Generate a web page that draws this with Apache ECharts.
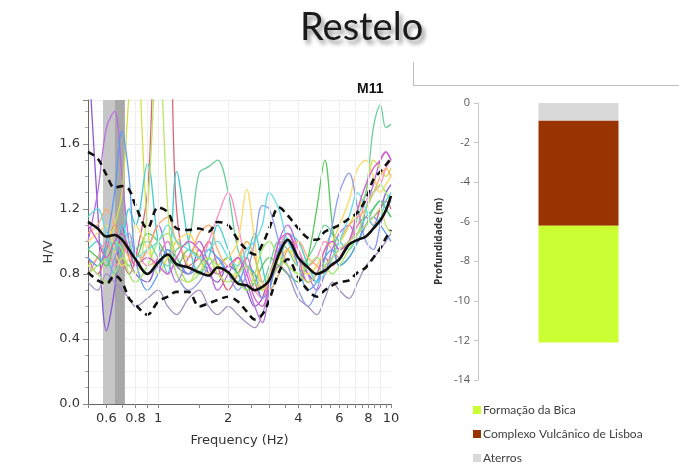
<!DOCTYPE html>
<html>
<head>
<meta charset="utf-8">
<script src="https://cdn.jsdelivr.net/npm/echarts@6/dist/echarts.min.js"></script>
<style>
  html, body { margin: 0; padding: 0; background: #ffffff; }
  #chart { width: 679px; height: 469px; }
</style>
</head>
<body>
<div id="chart"></div>
<script>
// Frequency samples (Hz) shared by every H/V curve
const freqs = [0.5, 0.55, 0.6, 0.65, 0.7, 0.75, 0.8, 0.9, 1.0, 1.1, 1.2, 1.35, 1.5, 1.65, 1.8,
  2.0, 2.2, 2.4, 2.6, 2.8, 3.0, 3.3, 3.6, 4.0, 4.4, 4.8, 5.2, 5.6, 6.0, 6.6, 7.2, 7.8, 8.4, 9.0, 9.5, 10];

// Average H/V ratio and the +/- standard deviation envelope
const hvMean = [1.12, 1.08, 1.03, 1.04, 1.01, 0.95, 0.89, 0.80, 0.87, 0.92, 0.86, 0.84, 0.81, 0.79, 0.84,
  0.81, 0.74, 0.73, 0.70, 0.72, 0.76, 0.92, 1.01, 0.90, 0.84, 0.80, 0.82, 0.86, 0.89, 0.98, 1.01, 1.03, 1.08, 1.13, 1.19, 1.28];
const hvUpper = [1.55, 1.51, 1.41, 1.33, 1.34, 1.32, 1.22, 1.08, 1.21, 1.18, 1.08, 1.07, 1.08, 1.06, 1.12,
  1.10, 1.01, 0.95, 0.92, 0.98, 1.08, 1.21, 1.16, 1.08, 1.02, 1.01, 1.06, 1.08, 1.10, 1.14, 1.18, 1.26, 1.38, 1.43, 1.47, 1.51];
const hvLower = [0.81, 0.76, 0.74, 0.79, 0.75, 0.65, 0.61, 0.55, 0.63, 0.66, 0.69, 0.69, 0.60, 0.62, 0.64,
  0.66, 0.63, 0.57, 0.52, 0.55, 0.64, 0.81, 0.89, 0.78, 0.70, 0.66, 0.70, 0.73, 0.75, 0.76, 0.81, 0.84, 0.90, 0.96, 1.02, 1.07];

// Individual time-window H/V curves
const w01 = [2.2, 1.2, 0.45, 0.7, 1.1, 0.9, 0.8, 0.75, 0.9, 1.0, 0.85, 0.8, 0.95, 0.8, 0.75,
  0.85, 0.8, 0.7, 0.6, 0.65, 0.8, 0.95, 1.05, 0.9, 0.8, 0.75, 0.85, 0.9, 0.95, 1.0, 1.05, 1.1, 1.15, 1.2, 1.3, 1.35];
const w02 = [1.0, 1.3, 1.7, 1.8, 1.4, 1.0, 0.85, 0.95, 1.1, 0.9, 0.75, 0.9, 1.0, 0.85, 0.7,
  0.8, 0.9, 0.75, 0.6, 0.5, 0.7, 1.0, 1.1, 0.95, 0.8, 0.7, 0.8, 0.95, 1.05, 1.1, 1.0, 1.2, 1.35, 1.5, 1.55, 1.5];
const w03 = [0.9, 0.8, 0.95, 1.1, 0.9, 0.8, 0.9, 1.3, 2.4, 2.4, 1.2, 0.85, 0.9, 1.0, 0.85,
  0.7, 0.8, 0.9, 0.75, 0.65, 0.75, 0.9, 1.0, 0.85, 0.75, 0.8, 0.9, 0.85, 0.9, 1.0, 1.1, 1.15, 1.1, 1.2, 1.25, 1.2];
const w04 = [0.85, 0.9, 1.0, 1.1, 1.3, 1.9, 2.3, 1.1, 0.8, 0.9, 1.0, 0.85, 0.8, 0.9, 0.8,
  0.75, 0.85, 1.0, 0.9, 0.7, 0.75, 0.85, 0.95, 0.9, 0.8, 0.85, 0.95, 1.05, 1.0, 1.1, 1.2, 1.3, 1.5, 1.45, 1.4, 1.45];
const w05 = [0.95, 1.0, 0.9, 0.8, 0.95, 1.2, 1.1, 1.48, 1.0, 0.8, 1.43, 1.0, 0.8, 0.9, 1.1,
  0.95, 0.8, 0.9, 1.05, 0.85, 0.7, 0.8, 1.05, 1.0, 0.85, 0.75, 0.9, 1.05, 1.0, 0.95, 1.05, 1.15, 1.2, 1.25, 1.2, 1.15];
const w06 = [0.9, 0.85, 0.95, 1.0, 0.9, 0.85, 0.95, 1.0, 0.9, 0.85, 0.95, 1.0, 1.42, 1.46, 1.5,
  1.3, 0.95, 0.85, 0.8, 0.75, 0.85, 1.0, 0.95, 0.85, 0.9, 1.0, 1.1, 1.05, 0.95, 1.0, 1.15, 1.3, 1.7, 1.84, 1.7, 1.72];
const w07 = [0.8, 0.9, 1.0, 0.85, 0.9, 1.0, 0.95, 0.85, 0.9, 1.0, 0.9, 0.8, 0.85, 1.0, 1.15,
  1.3, 1.1, 0.85, 0.7, 0.65, 0.8, 0.95, 1.05, 0.95, 0.85, 0.9, 1.0, 0.95, 0.9, 1.0, 1.1, 1.25, 1.3, 1.35, 1.45, 1.5];
const w08 = [0.95, 0.9, 0.85, 1.0, 1.05, 0.95, 0.9, 1.05, 1.0, 0.9, 0.85, 0.95, 0.9, 0.8, 0.85,
  0.9, 0.8, 0.7, 0.75, 0.85, 0.9, 0.85, 0.8, 0.75, 0.9, 1.2, 1.5, 1.1, 0.85, 0.9, 1.0, 1.1, 1.2, 1.25, 1.2, 1.15];
const w09 = [1.0, 1.05, 1.1, 0.95, 0.85, 0.9, 1.1, 0.95, 0.85, 0.9, 1.0, 1.05, 0.9, 0.8, 0.85,
  0.9, 1.0, 1.32, 1.0, 0.7, 0.75, 0.9, 0.95, 0.85, 0.8, 0.85, 0.95, 1.0, 1.1, 1.25, 1.45, 1.5, 1.4, 1.3, 1.35, 1.4];
const w10 = [0.85, 0.8, 0.75, 0.9, 1.0, 1.05, 0.9, 0.8, 0.85, 0.95, 0.8, 0.7, 0.75, 0.85, 0.9,
  0.8, 0.7, 0.8, 1.0, 1.22, 1.2, 1.0, 0.85, 0.7, 0.6, 0.7, 0.9, 1.1, 1.3, 1.42, 1.2, 1.0, 0.95, 1.1, 1.2, 1.25];
const w11 = [0.75, 0.7, 0.8, 0.75, 0.7, 0.65, 0.6, 0.65, 0.7, 0.6, 0.55, 0.65, 0.7, 0.6, 0.55,
  0.6, 0.55, 0.5, 0.47, 0.55, 0.7, 0.85, 0.8, 0.65, 0.6, 0.55, 0.65, 0.75, 0.7, 0.65, 0.75, 0.85, 0.9, 0.95, 1.0, 1.05];
const w12 = [1.05, 1.1, 1.2, 1.1, 1.0, 0.9, 0.85, 0.95, 1.1, 1.15, 1.0, 0.9, 1.05, 1.1, 0.95,
  0.85, 0.9, 1.0, 0.9, 0.75, 0.7, 0.8, 0.95, 1.0, 0.9, 0.85, 0.8, 0.9, 1.0, 1.1, 1.15, 1.2, 1.3, 1.4, 1.45, 1.4];
const w13 = [0.9, 0.85, 1.0, 1.3, 1.68, 1.4, 0.9, 0.7, 0.8, 0.95, 0.9, 0.8, 0.85, 0.95, 0.9,
  0.8, 0.75, 0.85, 0.8, 0.65, 0.7, 0.95, 1.0, 0.85, 0.7, 0.75, 0.9, 0.95, 0.85, 0.9, 1.0, 1.1, 1.15, 1.1, 1.05, 1.0];
const w14 = [0.8, 0.85, 0.9, 1.0, 0.95, 0.8, 0.75, 0.85, 1.0, 1.05, 0.9, 0.75, 0.8, 0.9, 0.85,
  0.8, 0.75, 0.7, 0.8, 0.95, 1.0, 0.9, 0.85, 0.8, 0.85, 0.9, 0.85, 0.8, 0.85, 0.95, 1.05, 1.2, 1.3, 1.35, 1.3, 1.25];
const w15 = [1.15, 1.2, 1.05, 0.95, 1.1, 1.0, 0.9, 0.95, 1.0, 1.1, 1.0, 0.95, 0.9, 0.95, 1.0,
  0.9, 0.85, 0.95, 1.0, 1.1, 1.3, 1.2, 1.0, 0.9, 0.85, 0.75, 0.8, 0.9, 1.0, 1.15, 1.3, 1.2, 1.1, 1.15, 1.25, 1.3];
const w16 = [1.1, 1.0, 0.9, 1.0, 1.05, 0.95, 0.85, 0.9, 0.85, 0.8, 0.9, 1.0, 0.95, 0.85, 0.8,
  0.85, 0.9, 0.8, 0.65, 0.6, 0.75, 1.0, 1.05, 0.9, 0.75, 0.8, 0.95, 1.0, 0.95, 1.0, 1.2, 1.35, 1.45, 1.5, 1.55, 1.5];
const w17 = [0.85, 0.8, 0.75, 0.8, 0.9, 0.85, 0.8, 1.2, 2.3, 1.2, 0.8, 0.75, 0.85, 0.9, 0.8,
  0.75, 0.8, 0.85, 0.75, 0.7, 0.8, 0.9, 0.85, 0.8, 0.75, 0.8, 0.85, 0.9, 0.95, 1.0, 1.05, 1.1, 1.15, 1.2, 1.1, 1.05];

const windows = [w01, w02, w03, w04, w05, w06, w07, w08, w09, w10, w11, w12, w13, w14, w15, w16, w17];
const windowColors = ['#8a5ad6', '#b86ee0', '#d9667a', '#d2e04a', '#45cccc', '#6ccf9c', '#ff8cc0',
  '#55c95a', '#ffd860', '#8c9cf0', '#a393c4', '#ffaa66', '#5a9cf5', '#9eea6a', '#5fdde6', '#d95bd0', '#bde36a'];

// Peak frequency band (f0 - sigma, f0, f0 + sigma)
const f0Band = [0.58, 0.65, 0.72];

// Frequency axis labels, ticks and faint grid lines
const freqLabels = [0.6, 0.8, 1, 2, 4, 6, 8, 10];
const freqTicks = [0.5, 0.6, 0.7, 0.8, 0.9, 1, 1.5, 2, 2.5, 3, 3.5, 4, 4.5, 5, 5.5, 6, 6.5, 7, 7.5, 8, 8.5, 9, 9.5, 10];
const freqGrid = [0.8, 0.9, 1, 2, 3, 4, 5, 6, 7, 8, 9];

// Soil profile (top to bottom), thickness in metres
const layerNames = ['Aterros', 'Complexo Vulcânico de Lisboa', 'Formação da Bica'];
const layerThickness = [0.9, 5.3, 5.9];
const layerColors = ['#d9d9d9', '#993300', '#ccff33'];
const legendOrder = ['Formação da Bica', 'Complexo Vulcânico de Lisboa', 'Aterros'];

const pairs = vals => vals.map((v, i) => [freqs[i], v]);

const series = [];

// faint vertical grid lines
series.push({
  type: 'line', xAxisIndex: 0, yAxisIndex: 0, data: [], silent: true, z: 0,
  markLine: {
    silent: true, symbol: 'none', label: { show: false },
    lineStyle: { color: '#eeeeee', width: 1, type: 'solid' },
    data: freqGrid.map(f => ({ xAxis: f }))
  }
});

// shaded f0 band
series.push({
  type: 'line', xAxisIndex: 0, yAxisIndex: 0, data: [], silent: true, z: 1,
  markArea: {
    silent: true,
    data: [
      [{ xAxis: f0Band[0], itemStyle: { color: '#c6c6c6' } }, { xAxis: f0Band[1] }],
      [{ xAxis: f0Band[1], itemStyle: { color: '#a8a8a8' } }, { xAxis: f0Band[2] }]
    ]
  }
});

windows.forEach((w, i) => {
  series.push({
    type: 'line', xAxisIndex: 0, yAxisIndex: 0, data: pairs(w),
    smooth: 0.35, showSymbol: false, silent: true, z: 2,
    lineStyle: { color: windowColors[i], width: 1.3 }
  });
});

[hvUpper, hvLower].forEach(v => {
  series.push({
    type: 'line', xAxisIndex: 0, yAxisIndex: 0, data: pairs(v),
    smooth: 0.35, showSymbol: false, silent: true, z: 4,
    lineStyle: { color: '#111', width: 2.6, type: [7, 5] }
  });
});
series.push({
  type: 'line', xAxisIndex: 0, yAxisIndex: 0, data: pairs(hvMean),
  smooth: 0.35, showSymbol: false, silent: true, z: 5,
  lineStyle: { color: '#111', width: 2.6 }
});

layerNames.forEach((name, i) => {
  series.push({
    name: name, type: 'bar', xAxisIndex: 1, yAxisIndex: 1, stack: 'perfil',
    barWidth: 80, data: [-layerThickness[i]], silent: true,
    itemStyle: { color: layerColors[i] }
  });
});

const chart = echarts.init(document.getElementById('chart'), null, { renderer: 'canvas' });
chart.setOption({
  animation: false,
  backgroundColor: '#ffffff',
  title: {
    text: 'Restelo', left: 295, top: 4,
    textStyle: {
      fontFamily: 'Lato', fontSize: 38, fontWeight: 'normal', color: '#1a1a1a',
      textShadowColor: 'rgba(0,0,0,0.42)', textShadowBlur: 4, textShadowOffsetX: 3, textShadowOffsetY: 4
    }
  },
  legend: {
    data: legendOrder, orient: 'vertical', left: 468, top: 399, itemGap: 12,
    icon: 'rect', itemWidth: 8, itemHeight: 8, selectedMode: false,
    textStyle: { fontFamily: 'Lato', fontSize: 12, color: '#404040', padding: [0, 0, 0, -3] }
  },
  grid: [
    { left: 88, top: 100, width: 303, height: 304 },
    { left: 478, top: 103, width: 204, height: 277 }
  ],
  xAxis: [
    {
      type: 'log', logBase: 10, min: 0.5, max: 10, gridIndex: 0,
      name: 'Frequency (Hz)', nameLocation: 'middle', nameGap: 30,
      nameTextStyle: { fontFamily: 'DejaVu Sans', fontSize: 13, color: '#333' },
      axisLine: { lineStyle: { color: '#666' } },
      axisTick: { customValues: freqTicks, length: 4, lineStyle: { color: '#888' } },
      axisLabel: { customValues: freqLabels, formatter: v => String(+v.toFixed(2)),
        fontFamily: 'DejaVu Sans', fontSize: 13, color: '#333', margin: 8 },
      splitLine: { show: false },
      minorTick: { show: false }
    },
    {
      type: 'category', gridIndex: 1, data: [''], show: false
    }
  ],
  yAxis: [
    {
      type: 'value', gridIndex: 0, min: 0, max: 1.87, interval: 0.4,
      name: 'H/V', nameLocation: 'middle', nameGap: 31,
      nameTextStyle: { fontFamily: 'DejaVu Sans', fontSize: 13, color: '#333' },
      axisLine: { show: true, lineStyle: { color: '#666' } },
      axisTick: { show: true, length: 5, lineStyle: { color: '#888' } },
      minorTick: { show: true, splitNumber: 4, length: 3, lineStyle: { color: '#aaa' } },
      axisLabel: { showMaxLabel: false, formatter: v => v.toFixed(1),
        fontFamily: 'DejaVu Sans', fontSize: 13, color: '#333', margin: 8 },
      splitLine: { show: true, lineStyle: { color: '#ececec' } },
      minorSplitLine: { show: true, lineStyle: { color: '#f4f4f4' } }
    },
    {
      type: 'value', gridIndex: 1, min: -14, max: 0, interval: 2,
      name: 'Profundidade (m)', nameLocation: 'middle', nameGap: 34,
      nameTextStyle: { fontFamily: 'Open Sans', fontSize: 10, fontWeight: 'bold', color: '#333' },
      axisLine: { show: true, onZero: false, lineStyle: { color: '#c8c8c8' } },
      axisTick: { show: true, length: 4, lineStyle: { color: '#c8c8c8' } },
      axisLabel: { fontFamily: 'Open Sans', fontSize: 11, color: '#595959', margin: 8 },
      splitLine: { show: false }
    }
  ],
  graphic: [
    {
      type: 'text', left: 357, top: 82,
      style: { text: 'M11', fontFamily: 'Liberation Sans', fontSize: 14, fontWeight: 'bold', fill: '#111' }
    },
    {
      type: 'polyline', silent: true,
      shape: { points: [[413.5, 62], [413.5, 85.5], [679, 85.5]] },
      style: { stroke: '#bdbdbd', lineWidth: 1, fill: null }
    }
  ],
  series: series
});
</script>
</body>
</html>
